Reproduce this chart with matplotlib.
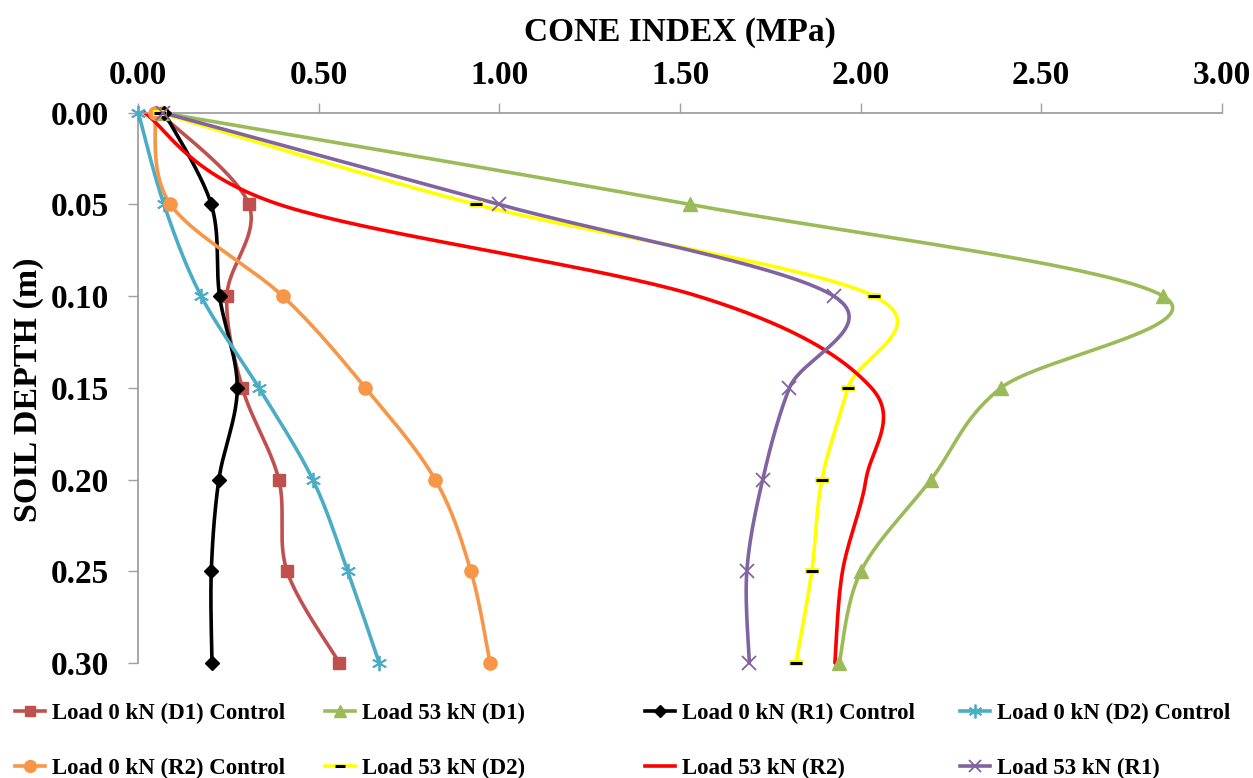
import numpy as np
import matplotlib
matplotlib.use("Agg")
import matplotlib.pyplot as plt
from matplotlib.lines import Line2D

plt.rcParams['font.family'] = ['Liberation Serif', 'DejaVu Serif']
plt.rcParams['font.weight'] = 'bold'

depth = [0.00, 0.05, 0.10, 0.15, 0.20, 0.25, 0.30]

d1_ctrl = [0.058, 0.306, 0.245, 0.288, 0.389, 0.412, 0.557]
d1_53 = [0.065, 1.528, 2.838, 2.389, 2.195, 2.001, 1.941]
r1_ctrl = [0.072, 0.202, 0.225, 0.274, 0.223, 0.202, 0.204]
d2_ctrl = [0.000, 0.071, 0.174, 0.334, 0.483, 0.580, 0.667]
r2_ctrl = [0.045, 0.089, 0.400, 0.629, 0.822, 0.921, 0.974]
d2_53 = [0.060, 0.935, 2.037, 1.965, 1.893, 1.865, 1.821]
r2_53 = [0.017, 0.390, 1.550, 2.030, 2.015, 1.950, 1.929]
r1_53 = [0.068, 0.999, 1.926, 1.803, 1.729, 1.685, 1.692]

labels = ["Load 0 kN (D1) Control", "Load 53 kN (D1)", "Load 0 kN (R1) Control",
          "Load 0 kN (D2) Control", "Load 0 kN (R2) Control", "Load 53 kN (D2)",
          "Load 53 kN (R2)", "Load 53 kN (R1)"]
xticks = [0.0, 0.5, 1.0, 1.5, 2.0, 2.5, 3.0]
yticks = [0.00, 0.05, 0.10, 0.15, 0.20, 0.25, 0.30]


def smooth(xs, ys, n=40):
    p = np.column_stack([xs, ys]).astype(float)
    pp = np.vstack([p[0], p, p[-1]])
    out = []
    t = np.linspace(0, 1, n)[:, None]
    for i in range(len(p) - 1):
        p0, p1, p2, p3 = pp[i], pp[i + 1], pp[i + 2], pp[i + 3]
        c1 = p1 + (p2 - p0) / 6.0
        c2 = p2 - (p3 - p1) / 6.0
        seg = ((1 - t) ** 3) * p1 + 3 * ((1 - t) ** 2) * t * c1 + 3 * (1 - t) * t ** 2 * c2 + t ** 3 * p2
        out.append(seg if i == 0 else seg[1:])
    a = np.vstack(out)
    return a[:, 0], a[:, 1]


fig = plt.figure(figsize=(12.53, 7.78), dpi=100)
ax = fig.add_axes([0.1104, 0.1478, 0.9750 - 0.1104, 0.8551 - 0.1478])

lw = 2.6
styles = [
    dict(data=d1_ctrl, color='#C0504D', marker='s', ms=8.5, mfc='#C0504D', mec='#C0504D', mew=1),
    dict(data=d1_53, color='#9BBB59', marker='^', ms=10, mfc='#9BBB59', mec='#9BBB59', mew=1),
    dict(data=r1_ctrl, color='#000000', marker='D', ms=7, mfc='#000000', mec='#000000', mew=1),
    dict(data=d2_ctrl, color='#4BACC6', marker=(6, 2, 0), ms=11, mfc='none', mec='#4BACC6', mew=1.3),
    dict(data=r2_ctrl, color='#F79646', marker='o', ms=9.5, mfc='#F79646', mec='#F79646', mew=1),
    dict(data=d2_53, color='#FFFF00', marker='_', ms=8, mfc='#000000', mec='#000000', mew=2.2),
    dict(data=r2_53, color='#FF0000', marker=None, ms=0, mfc='none', mec='none', mew=0),
    dict(data=r1_53, color='#8064A2', marker='x', ms=10, mfc='none', mec='#8064A2', mew=1.3),
]

handles = []
for st, lab in zip(styles, labels):
    cx, cy = smooth(st['data'], depth)
    ax.plot(cx, cy, color=st['color'], lw=lw, solid_capstyle='round', zorder=2, clip_on=False)
    if st['marker'] is not None:
        if st['marker'] == '_':
            ax.plot(st['data'], depth, ls='none', marker='_', ms=st['ms'] + 2.5,
                    mec=st['color'], mew=st['mew'] + 2.2, zorder=3, clip_on=False)
        ax.plot(st['data'], depth, ls='none', marker=st['marker'], ms=st['ms'],
                mfc=st['mfc'], mec=st['mec'], mew=st['mew'], zorder=3, clip_on=False)
    handles.append(Line2D([], [], color=st['color'], lw=lw, marker=st['marker'],
                          ms=st['ms'] * 0.9 if st['ms'] else 0, mfc=st['mfc'], mec=st['mec'],
                          mew=st['mew'], label=lab))

ax.set_xlim(0, 3.0)
ax.set_ylim(0.30, 0.00)
ax.xaxis.tick_top()
ax.xaxis.set_label_position('top')
ax.set_xticks(xticks)
ax.set_yticks(yticks)
ax.set_xticklabels([f"{v:.2f}" for v in xticks])
ax.set_yticklabels([f"{v:.2f}" for v in yticks])
ax.tick_params(axis='x', direction='out', length=7.2, width=1, color='#A0A0A0',
               labelsize=24, pad=8.5)
ax.tick_params(axis='y', direction='out', length=7.2, width=1, color='#A0A0A0',
               labelsize=24, pad=14)
for lab in ax.get_xticklabels() + ax.get_yticklabels():
    lab.set_fontweight('bold')
ax.spines['right'].set_visible(False)
ax.spines['bottom'].set_visible(False)
for s in ['top', 'left']:
    ax.spines[s].set_color('#A0A0A0')
    ax.spines[s].set_linewidth(1.3)

fig.text(680 / 1253, 1 - 32 / 778, "CONE INDEX (MPa)", ha='center', va='center',
         fontsize=24, fontweight='bold')
fig.text(29 / 1253, 1 - 390 / 778, "SOIL DEPTH (m)", ha='center', va='center',
         rotation=90, fontsize=24.5, fontweight='bold')

col_x = [15, 325, 645, 960]
order = [(0, 4), (1, 5), (2, 6), (3, 7)]
for cx_, (a, b) in zip(col_x, order):
    fig.legend(handles=[handles[a], handles[b]], labels=[labels[a], labels[b]],
               loc='center left', bbox_to_anchor=(cx_ / 1253, 1 - 741 / 778),
               frameon=False, prop=dict(size=16.5, weight='bold'),
               handlelength=1.3, handletextpad=0.3, labelspacing=1.5,
               borderpad=0, borderaxespad=0, numpoints=1)

fig.savefig("out.png", dpi=100)
